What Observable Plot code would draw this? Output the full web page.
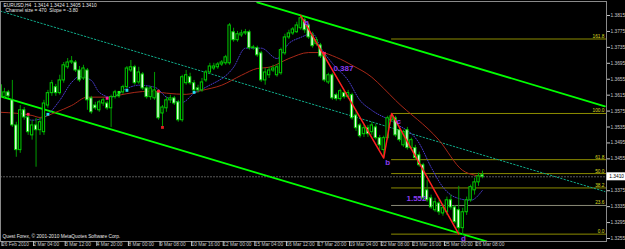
<!DOCTYPE html>
<html><head><meta charset="utf-8">
<script src="https://cdn.jsdelivr.net/npm/d3@7"></script>
<script src="https://cdn.jsdelivr.net/npm/@observablehq/plot@0.6"></script>
<style>
html,body{margin:0;padding:0;background:#000;overflow:hidden;}
#chart svg{display:block;}
</style></head><body><div id="chart"></div>
<script>
// ---- candles (EURUSD H4), bar index 0..122 ----
const opens = [1.3640,1.3610,1.3622,1.3602,1.3539,1.3477,1.3577,1.3559,1.3514,1.3539,
1.3527,1.3522,1.3589,1.3620,1.3635,1.3620,1.3652,1.3685,1.3697,1.3697,
1.3677,1.3657,1.3677,1.3607,1.3589,1.3577,1.3594,1.3594,1.3582,1.3610,
1.3615,1.3622,1.3635,1.3677,1.3685,1.3647,1.3667,1.3632,1.3610,1.3607,
1.3622,1.3569,1.3582,1.3602,1.3607,1.3597,1.3552,1.3645,1.3660,1.3645,
1.3632,1.3627,1.3652,1.3672,1.3682,1.3685,1.3692,1.3695,1.3695,1.3773,
1.3753,1.3765,1.3770,1.3773,1.3733,1.3733,1.3720,1.3652,1.3665,1.3677,
1.3665,1.3670,1.3720,1.3760,1.3770,1.3773,1.3783,1.3803,1.3790,1.3765,
1.3743,1.3740,1.3715,1.3647,1.3665,1.3615,1.3605,1.3620,1.3610,1.3615,
1.3564,1.3539,1.3517,1.3532,1.3522,1.3534,1.3507,1.3477,1.3507,1.3552,
1.3557,1.3527,1.3489,1.3527,1.3482,1.3482,1.3464,1.3439,1.3376,1.3356,
1.3326,1.3343,1.3318,1.3321,1.3351,1.3333,1.3326,1.3281,1.3321,1.3351,
1.3376,1.3396,1.3414];
const highs = [1.3652,1.3632,1.3627,1.3652,1.3547,1.3589,1.3584,1.3564,1.3552,1.3557,
1.3557,1.3602,1.3627,1.3652,1.3642,1.3665,1.3697,1.3707,1.3712,1.3702,
1.3687,1.3690,1.3682,1.3612,1.3597,1.3602,1.3607,1.3600,1.3615,1.3627,
1.3622,1.3640,1.3687,1.3702,1.3690,1.3685,1.3672,1.3637,1.3637,1.3672,
1.3627,1.3589,1.3610,1.3615,1.3612,1.3602,1.3665,1.3677,1.3670,1.3652,
1.3640,1.3657,1.3677,1.3695,1.3695,1.3697,1.3702,1.3715,1.3795,1.3783,
1.3775,1.3778,1.3780,1.3778,1.3740,1.3738,1.3725,1.3682,1.3685,1.3690,
1.3692,1.3733,1.3768,1.3778,1.3785,1.3798,1.3815,1.3808,1.3795,1.3773,
1.3760,1.3745,1.3720,1.3670,1.3670,1.3620,1.3630,1.3625,1.3627,1.3620,
1.3577,1.3544,1.3539,1.3539,1.3547,1.3542,1.3514,1.3512,1.3562,1.3569,
1.3562,1.3534,1.3527,1.3534,1.3507,1.3489,1.3472,1.3444,1.3401,1.3364,
1.3356,1.3351,1.3341,1.3359,1.3364,1.3338,1.3386,1.3331,1.3359,1.3389,
1.3406,1.3419,1.3424];
const lows = [1.3602,1.3605,1.3607,1.3534,1.3459,1.3469,1.3552,1.3514,1.3502,1.3434,
1.3514,1.3514,1.3582,1.3612,1.3612,1.3615,1.3645,1.3680,1.3692,1.3672,
1.3647,1.3652,1.3577,1.3567,1.3577,1.3572,1.3587,1.3577,1.3534,1.3605,
1.3607,1.3617,1.3630,1.3672,1.3640,1.3642,1.3627,1.3605,1.3602,1.3602,
1.3552,1.3534,1.3572,1.3594,1.3589,1.3547,1.3547,1.3640,1.3640,1.3622,
1.3620,1.3622,1.3647,1.3667,1.3677,1.3680,1.3687,1.3690,1.3690,1.3748,
1.3748,1.3760,1.3765,1.3728,1.3728,1.3710,1.3647,1.3640,1.3657,1.3672,
1.3660,1.3665,1.3715,1.3755,1.3765,1.3770,1.3778,1.3770,1.3755,1.3733,
1.3738,1.3707,1.3647,1.3642,1.3602,1.3600,1.3600,1.3605,1.3605,1.3552,
1.3524,1.3507,1.3509,1.3509,1.3514,1.3502,1.3477,1.3457,1.3502,1.3547,
1.3509,1.3497,1.3484,1.3477,1.3477,1.3452,1.3434,1.3351,1.3346,1.3328,
1.3321,1.3313,1.3311,1.3313,1.3326,1.3291,1.3266,1.3263,1.3313,1.3346,
1.3364,1.3386,1.3405];
const closes = [1.3610,1.3622,1.3612,1.3539,1.3477,1.3577,1.3559,1.3522,1.3539,1.3527,
1.3547,1.3594,1.3620,1.3645,1.3620,1.3652,1.3690,1.3697,1.3700,1.3677,
1.3652,1.3682,1.3602,1.3572,1.3582,1.3597,1.3602,1.3582,1.3610,1.3622,
1.3612,1.3635,1.3682,1.3685,1.3645,1.3672,1.3632,1.3610,1.3632,1.3627,
1.3557,1.3584,1.3602,1.3607,1.3594,1.3552,1.3660,1.3665,1.3645,1.3627,
1.3627,1.3647,1.3672,1.3687,1.3687,1.3692,1.3697,1.3710,1.3790,1.3753,
1.3768,1.3770,1.3773,1.3733,1.3735,1.3715,1.3652,1.3672,1.3677,1.3682,
1.3685,1.3728,1.3760,1.3770,1.3780,1.3790,1.3808,1.3778,1.3760,1.3738,
1.3753,1.3712,1.3652,1.3665,1.3607,1.3605,1.3625,1.3610,1.3620,1.3557,
1.3532,1.3512,1.3532,1.3517,1.3539,1.3507,1.3489,1.3507,1.3557,1.3562,
1.3514,1.3502,1.3522,1.3482,1.3502,1.3457,1.3439,1.3356,1.3351,1.3333,
1.3346,1.3321,1.3331,1.3351,1.3333,1.3296,1.3281,1.3321,1.3351,1.3384,
1.3396,1.3411,1.3410];

// ---- x axis labels ----
const tickBars = [0,8,16,24,32,40,48,56,64,72,80,88,96,104,112,120];
const timeLabels = ["26 Feb 2010","2 Mar 04:00","3 Mar 12:00","4 Mar 20:00","8 Mar 00:00","9 Mar 08:00",
"10 Mar 16:00","12 Mar 00:00","15 Mar 04:00","16 Mar 12:00","17 Mar 20:00","19 Mar 04:00",
"22 Mar 08:00","23 Mar 16:00","25 Mar 00:00","26 Mar 08:00"];
// ---- y axis labels ----
const yTicks = [1.3815,1.3775,1.3735,1.3695,1.3655,1.3615,1.3575,1.3535,1.3495,1.3455,1.3375,1.3335,1.3295,1.3255];
const bidPrice = 1.3410;

// ---- moving averages (bar, price) ----
const redMaBars   = [0,8,10,14,18,22,27,30,34,38,42,47,51,56,61,65,68,73,78,81,85,89,94,97,100,111,117,120,122];
const redMaPrices = [1.3572,1.3564,1.3559,1.3572,1.3589,1.3610,1.3610,1.3615,1.3622,1.3625,1.3620,1.3617,1.3627,1.3640,1.3665,1.3682,1.3685,1.3707,1.3722,1.3722,1.3710,1.3690,1.3660,1.3632,1.3602,1.3502,1.3426,1.3414,1.3411];
const blueMaBars   = [5,8,11,15,18,20,23,25,28,32,35,39,42,46,49,52,59,62,66,70,73,76,79,81,84,88,91,94,100,106,109,112,115,119,122];
const blueMaPrices = [1.3572,1.3552,1.3559,1.3602,1.3647,1.3662,1.3652,1.3622,1.3610,1.3632,1.3640,1.3635,1.3610,1.3597,1.3620,1.3635,1.3685,1.3733,1.3733,1.3707,1.3745,1.3760,1.3770,1.3735,1.3695,1.3652,1.3602,1.3577,1.3544,1.3494,1.3434,1.3384,1.3359,1.3351,1.3376];

// ---- channel lines (bar, price) ----
const channelUpper = [[65,1.3848],[153,1.3587]];
const channelMiddle = [[0,1.3826],[153,1.3373]];
const channelLower = [[0,1.3612],[123,1.3248]];

// ---- zigzag ----
const zigzagBars = [76,97,99,116];
const zigzagPrices = [1.3815,1.3457,1.3569,1.3266];
const waveText = ["a","0.387","b","c","1.552","d"];
const waveBars = [77.5,86.8,98,100.8,105.3,117.2];
const wavePrices = [1.3798,1.3682,1.3446,1.3549,1.3356,1.3256];

// ---- fibonacci ----
const fibLabels = ["0.0","23.6","38.2","50.0","61.8","100.0","161.8"];
const fibPrices = [1.3266,1.3338,1.3382,1.3418,1.3453,1.3569,1.3756];
const fibStartBar = 99;

// ---- signal markers ----
const sigBars = [7,12,27,32,40,49,41,82,30];
const sigPrices = [1.3567,1.3567,1.3607,1.3627,1.3625,1.3622,1.3534,1.3720,1.3622];
const sigColors = ["#ff2060","#20e0f0","#ff20a0","#20e0f0","#ff2040","#20e0f0","#e02020","#ff2060","#20ff20"];

const candles = opens.map((o,i)=>({i, o, h:highs[i], l:lows[i], c:closes[i]}));
const redMa = redMaBars.map((b,i)=>({b, p:redMaPrices[i]}));
const blueMa = blueMaBars.map((b,i)=>({b, p:blueMaPrices[i]}));
const zz = zigzagBars.map((b,i)=>({b, p:zigzagPrices[i]}));
const waves = waveText.map((t,i)=>({t, b:waveBars[i], p:wavePrices[i]}));
const xMax = 153.4;
const fibs = fibLabels.map((t,i)=>({t, p:fibPrices[i]}));
const sigs = sigBars.map((b,i)=>({b, p:sigPrices[i], c:sigColors[i]}));
const ch = (arr)=>arr.map(([b,p])=>({b,p}));

const FONT = "Liberation Sans, Arial, sans-serif";
const plot = Plot.plot({
  width: 625, height: 249,
  marginTop: 1, marginBottom: 8, marginLeft: 0, marginRight: 19,
  style: {background: "#000", color: "#c8c8c8", fontFamily: FONT},
  x: {domain: [0, xMax], axis: null},
  y: {domain: [1.32475, 1.38502], axis: null},
  marks: [
    Plot.ruleY([bidPrice], {stroke: "#5a5a5a", strokeDasharray: "2,1"}),
    // fib levels
    Plot.ruleY(fibs, {y: "p", x1: fibStartBar, x2: xMax, stroke: d => d.t === "23.6" ? "#8a8a78" : "#8c8c00", strokeWidth: 1}),
    Plot.text(fibs, {y: "p", text: "t", frameAnchor: "right", textAnchor: "end", dx: -2, dy: -2.6, fill: "#dcdc20", fontSize: 4.8}),
    // channel
    Plot.line(ch(channelMiddle), {x: "b", y: "p", stroke: "#10a888", strokeDasharray: "1.5,2", strokeWidth: 1, clip: true}),
    Plot.line(ch(channelUpper), {x: "b", y: "p", stroke: "#00ff00", strokeWidth: 1.8, clip: true}),
    Plot.line(ch(channelLower), {x: "b", y: "p", stroke: "#00ff00", strokeWidth: 1.8, clip: true}),
    // moving averages
    Plot.line(redMa, {x: "b", y: "p", stroke: "#a82818", strokeWidth: 1, curve: "monotone-x", clip: true}),
    Plot.line(blueMa, {x: "b", y: "p", stroke: "#4a3cd0", strokeWidth: 1, strokeDasharray: "1,1.5", curve: "monotone-x", clip: true}),
    // candles
    Plot.ruleX(candles, {x: "i", y1: "l", y2: "h", stroke: "#009c00", strokeWidth: 1, clip: true}),
    Plot.rect(candles, {x1: d => d.i - 0.3, x2: d => d.i + 0.3, y1: "o", y2: "c",
      fill: d => d.c < d.o ? "#f2fff0" : "#000", stroke: "#00d000", strokeWidth: 1, clip: true}),
    // signals
    Plot.dot(sigs, {x: "b", y: "p", fill: "c", symbol: "square", r: 1.6, stroke: null}),
    // zigzag
    Plot.line(zz, {x: "b", y: "p", stroke: "#ff2020", strokeWidth: 1.5, clip: true}),
    Plot.text(waves, {x: "b", y: "p", text: "t", fill: "#8a3cf0", fontSize: 8, fontWeight: "bold", clip: true}),
    // frame and axes
    Plot.frame({stroke: "#8a8a8a"}),
    Plot.axisY(yTicks, {anchor: "right", tickFormat: d => d.toFixed(4), tickSize: 3, tickPadding: 1,
      fontSize: 4.8, color: "#c8c8c8"}),
    Plot.axisX(tickBars, {anchor: "bottom", tickFormat: d => timeLabels[tickBars.indexOf(d)], tickSize: 5, tickPadding: -4,
      textAnchor: "start", dx: 1.5, fontSize: 4.8, color: "#c8c8c8"}),
    // header & copyright
    Plot.text(["EURUSD,H4  1.3414 1.3424 1.3405 1.3410"], {frameAnchor: "top-left", dx: 3, dy: 2, fill: "#e8e8e8", fontSize: 4.8}),
    Plot.text(["Channel size = 470  Slope = -3.80"], {frameAnchor: "top-left", dx: 5, dy: 7.5, fill: "#e8e8e8", fontSize: 4.8}),
    Plot.text(["Quest Forex, \u00a9 2001-2010 MetaQuotes Software Corp."], {frameAnchor: "bottom-left", dx: 2, dy: -4, fill: "#e8e8e8", fontSize: 4.8})
  ]
});
document.getElementById("chart").appendChild(plot);

// bid price box on the price axis
const yb = plot.scale("y").apply(bidPrice);
const svg = d3.select(plot);
svg.append("rect").attr("x", 606.5).attr("y", yb - 4).attr("width", 18.5).attr("height", 8).attr("fill", "#ffffff");
svg.append("text").attr("x", 624).attr("y", yb + 1.7).attr("text-anchor", "end")
  .style("font-size", "4.8px").style("font-family", FONT)
  .attr("fill", "#000").text(bidPrice.toFixed(4));
</script>
</body></html>
